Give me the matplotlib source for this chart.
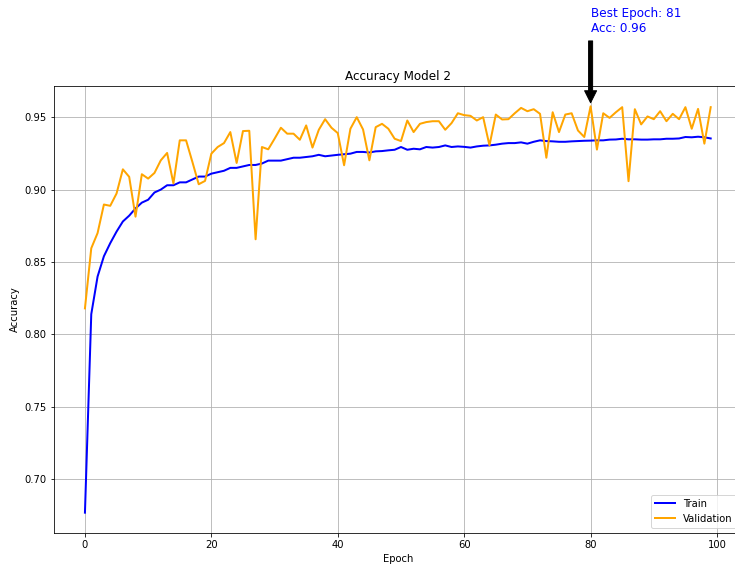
import numpy as np
import matplotlib
matplotlib.use("Agg")
import matplotlib.pyplot as plt

# accuracy per epoch
train_acc = [
    0.677, 0.814, 0.840, 0.854, 0.863, 0.871, 0.878, 0.882, 0.887, 0.891,
    0.893, 0.898, 0.900, 0.903, 0.903, 0.905, 0.905, 0.907, 0.909, 0.909,
    0.911, 0.912, 0.913, 0.915, 0.915, 0.916, 0.917, 0.917, 0.918, 0.920,
    0.920, 0.920, 0.921, 0.922, 0.922, 0.9225, 0.923, 0.924, 0.923, 0.9235,
    0.924, 0.9244, 0.9248, 0.926, 0.926, 0.9256, 0.9264, 0.9266, 0.9271, 0.9275,
    0.9294, 0.9275, 0.9282, 0.9278, 0.9294, 0.929, 0.9294, 0.9305, 0.9294, 0.9298,
    0.9295, 0.929, 0.9298, 0.9303, 0.9305, 0.931, 0.9317, 0.9321, 0.9321, 0.9326,
    0.9317, 0.933, 0.934, 0.9335, 0.9333, 0.933, 0.933, 0.9333, 0.9335, 0.9337,
    0.9338, 0.934, 0.934, 0.9345, 0.9346, 0.9351, 0.9347, 0.9347, 0.9345, 0.9345,
    0.9347, 0.9347, 0.9351, 0.9351, 0.9353, 0.9363, 0.9361, 0.9365, 0.9361, 0.9353,
]
val_acc = [
    0.818, 0.8595, 0.870, 0.8897, 0.8888, 0.8973, 0.914, 0.9088, 0.8813, 0.9106,
    0.9076, 0.9115, 0.9202, 0.9253, 0.9042, 0.934, 0.934, 0.9191, 0.9037, 0.906,
    0.9248, 0.9294, 0.9321, 0.9397, 0.9184, 0.9404, 0.9406, 0.8657, 0.9294, 0.9278,
    0.9351, 0.9427, 0.9386, 0.9386, 0.9344, 0.9443, 0.929, 0.9413, 0.9486, 0.9427,
    0.939, 0.9168, 0.942, 0.950, 0.9415, 0.9202, 0.9431, 0.9454, 0.942, 0.9351,
    0.9335, 0.9477, 0.9397, 0.9454, 0.9466, 0.9472, 0.9472, 0.9413, 0.9459, 0.9527,
    0.9514, 0.9509, 0.9477, 0.950, 0.9305, 0.9518, 0.9484, 0.9486, 0.9527, 0.9564,
    0.9541, 0.9555, 0.9523, 0.922, 0.9534, 0.9397, 0.9518, 0.9527, 0.9408, 0.9363,
    0.9575, 0.9276, 0.9527, 0.9495, 0.9534, 0.9569, 0.9058, 0.9555, 0.945, 0.9505,
    0.9486, 0.9541, 0.9472, 0.9523, 0.9486, 0.9569, 0.942, 0.9557, 0.9317, 0.9569,
]
epochs = np.arange(len(train_acc))

fig = plt.figure(figsize=(735 / 72, 569 / 72), dpi=72)
ax = fig.add_axes([0.073, 0.0633, 0.9365, 0.7856])

ax.plot(epochs, train_acc, color='blue', linewidth=2, label='Train')
ax.plot(epochs, val_acc, color='orange', linewidth=2, label='Validation')

best = int(np.argmax(val_acc))
ax.annotate(f"Best Epoch: {best + 1}\nAcc: {val_acc[best]:.2f}",
            xy=(best, val_acc[best]), xytext=(best, val_acc[best] + 0.051),
            arrowprops=dict(facecolor='black', shrink=0.05),
            color='blue', fontsize=12)

ax.set_title('Accuracy Model 2')
ax.set_xlabel('Epoch')
ax.set_ylabel('Accuracy')
ax.grid(True)
ax.legend(loc='lower right')

fig.savefig('out.png', dpi=72)
